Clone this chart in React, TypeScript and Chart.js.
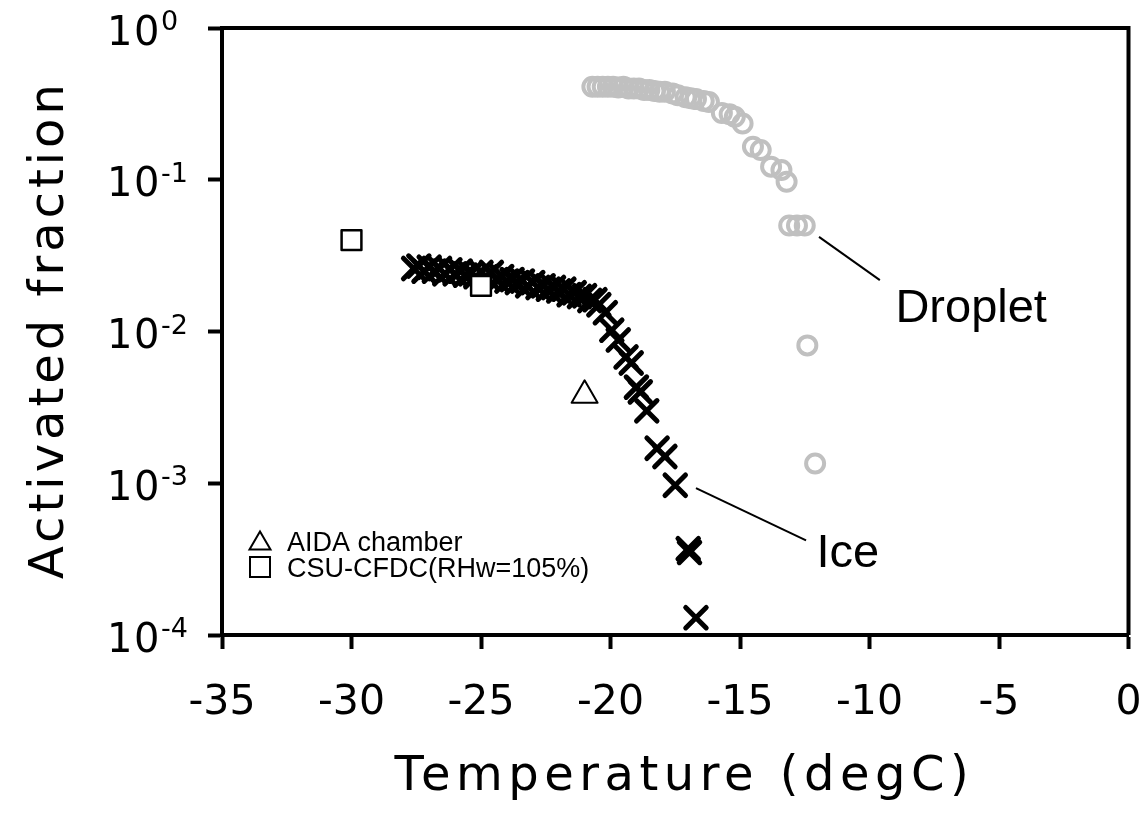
import React, { useEffect, useRef } from 'react';
import { Chart, registerables } from 'chart.js';

Chart.register(...registerables);

// ---- data ----
const xTicks = [-35, -30, -25, -20, -15, -10, -5, 0];
const yTicks = [1, 0.1, 0.01, 0.001, 0.0001];
const yTickBase = '10';
const yTickExponents = ['0', '-1', '-2', '-3', '-4'];

const iceT = [
  -27.6, -27.4, -27.2, -27.0, -26.8, -26.6, -26.4, -26.2, -26.0, -25.8,
  -25.6, -25.4, -25.2, -25.0, -24.8, -24.6, -24.4, -24.2, -24.0, -23.8,
  -23.6, -23.4, -23.2, -23.0, -22.8, -22.6, -22.4, -22.2, -22.0, -21.8,
  -21.6, -21.4, -21.2, -21.0, -20.8, -20.6, -20.45, -20.2, -19.95, -19.7,
  -19.4, -19.2, -19.0, -18.85, -18.6, -18.2, -17.9, -17.5, -17.0, -16.95, -16.7,
];
const iceF = [
  0.026, 0.027, 0.025, 0.0265, 0.025, 0.026, 0.024, 0.0255, 0.024, 0.025,
  0.0235, 0.024, 0.023, 0.0245, 0.023, 0.0245, 0.022, 0.023, 0.0215, 0.022,
  0.021, 0.0215, 0.020, 0.021, 0.0195, 0.020, 0.019, 0.0195, 0.0185, 0.019,
  0.0175, 0.018, 0.017, 0.0172, 0.016, 0.0162, 0.015, 0.0133, 0.0102, 0.0088,
  0.0068, 0.0062, 0.0043, 0.0040, 0.0030, 0.0017, 0.0015, 0.00097, 0.00037, 0.00035, 0.00013,
];

const dropT = [
  -20.7, -20.5, -20.3, -20.1, -19.9, -19.7, -19.5, -19.3, -19.1, -18.9,
  -18.7, -18.5, -18.3, -18.1, -17.9, -17.6, -17.4, -17.1, -16.9, -16.7,
  -16.4, -16.2, -15.7, -15.4, -15.2, -14.9, -14.5, -14.2, -13.8, -13.4,
  -13.2, -13.1, -12.8, -12.5, -12.4, -12.1,
];
const dropF = [
  0.41, 0.41, 0.41, 0.41, 0.41, 0.405, 0.41, 0.40, 0.40, 0.40,
  0.39, 0.39, 0.385, 0.38, 0.38, 0.37, 0.36, 0.35, 0.345, 0.34,
  0.33, 0.325, 0.275, 0.27, 0.26, 0.235, 0.165, 0.157, 0.122, 0.116,
  0.097, 0.05, 0.05, 0.05, 0.0081, 0.00135,
];

const aidaT = [-21.0];
const aidaF = [0.0038];
const csuT = [-30, -25];
const csuF = [0.04, 0.02];

const seriesLabels = ['CSU-CFDC(RHw=105%)', 'AIDA chamber', 'Ice', 'Droplet'];

// annotation anchors (data coordinates)
const annotations = {
  droplet: { from: [-11.95, 0.042], to: [-9.6, 0.0218], text: [-9.0, 0.0116] },
  ice: { from: [-16.7, 0.00093], to: [-12.45, 0.00042], text: [-12.05, 0.00028] },
};

const pts = (xs: number[], ys: number[]) => xs.map((x, i) => ({ x, y: ys[i] }));

const TITLE_FONT = '"DejaVu Sans", sans-serif';
const LABEL_FONT = '"Liberation Sans", Arial, sans-serif';

const decorPlugin = {
  id: 'decor',
  beforeDatasetsDraw(chart: any) {
    chart.ctx.save();
    chart.ctx.lineCap = 'round';
    chart.ctx.lineJoin = 'round';
  },
  afterDatasetsDraw(chart: any) {
    chart.ctx.restore();
  },
  afterDraw(chart: any) {
    const ctx = chart.ctx as CanvasRenderingContext2D;
    const { left, right, top, bottom } = chart.chartArea;
    const xs = chart.scales.x;
    const ys = chart.scales.y;
    ctx.save();
    // frame top & right
    ctx.strokeStyle = '#000';
    ctx.lineWidth = 4;
    ctx.beginPath();
    ctx.moveTo(left, top);
    ctx.lineTo(right, top);
    ctx.lineTo(right, bottom);
    ctx.stroke();

    // y tick labels with superscripts
    ctx.fillStyle = '#000';
    ctx.textAlign = 'left';
    ctx.textBaseline = 'alphabetic';
    ys.ticks.forEach((t: any) => {
      const idx = yTicks.findIndex((v) => Math.abs(Math.log10(v) - Math.log10(t.value)) < 1e-6);
      if (idx < 0) return;
      const py = ys.getPixelForValue(t.value);
      const lx = left - 115;
      ctx.font = `40px ${TITLE_FONT}`;
      (ctx as any).letterSpacing = '1.5px';
      ctx.fillText(yTickBase, lx, py + 16.5);
      const w = ctx.measureText(yTickBase).width;
      ctx.font = `27px ${TITLE_FONT}`;
      (ctx as any).letterSpacing = '0px';
      ctx.fillText(yTickExponents[idx], lx + w, py + 2);
    });

    // axis titles
    ctx.font = `48px ${TITLE_FONT}`;
    (ctx as any).letterSpacing = '5.5px';
    ctx.textAlign = 'center';
    ctx.fillText('Temperature (degC)', (left + right) / 2 + 9, 790);
    ctx.save();
    ctx.translate(63, (top + bottom) / 2 - 2);
    ctx.rotate(-Math.PI / 2);
    (ctx as any).letterSpacing = '4px';
    ctx.fillText('Activated fraction', 0, 0);
    ctx.restore();
    (ctx as any).letterSpacing = '0px';

    // leader lines and labels
    const P = (p: number[]) => [xs.getPixelForValue(p[0]), ys.getPixelForValue(p[1])];
    ctx.lineWidth = 2;
    ctx.textAlign = 'left';
    ctx.font = `47px ${LABEL_FONT}`;
    [
      { a: annotations.droplet, label: seriesLabels[3] },
      { a: annotations.ice, label: seriesLabels[2] },
    ].forEach(({ a, label }) => {
      const f = P(a.from), t = P(a.to), tx = P(a.text);
      ctx.beginPath();
      ctx.moveTo(f[0], f[1]);
      ctx.lineTo(t[0], t[1]);
      ctx.stroke();
      ctx.fillText(label, tx[0], tx[1]);
    });

    // legend (AIDA, CSU)
    ctx.font = `27px ${LABEL_FONT}`;
    ctx.lineWidth = 2;
    const lx = left + 38;
    const ly1 = bottom - 94;
    const ly2 = bottom - 68;
    const s = 21;
    ctx.beginPath();
    ctx.moveTo(lx, ly1 - s * 0.45);
    ctx.lineTo(lx + s / 2, ly1 + s * 0.4);
    ctx.lineTo(lx - s / 2, ly1 + s * 0.4);
    ctx.closePath();
    ctx.stroke();
    ctx.strokeRect(lx - 10, ly2 - 10, 20, 20);
    ctx.fillText(seriesLabels[1], lx + 27, ly1 + 10);
    ctx.fillText(seriesLabels[0], lx + 27, ly2 + 10);
    ctx.restore();
  },
};

export default function App() {
  const ref = useRef<HTMLCanvasElement | null>(null);
  useEffect(() => {
    if (!ref.current) return;
    const chart = new Chart(ref.current, {
      type: 'scatter',
      data: {
        datasets: [
          {
            label: seriesLabels[0],
            data: pts(csuT, csuF),
            pointStyle: 'rect',
            pointRadius: 14,
            borderWidth: 2.5,
            borderColor: '#000',
            backgroundColor: '#fff',
          },
          {
            label: seriesLabels[1],
            data: pts(aidaT, aidaF),
            pointStyle: 'triangle',
            pointRadius: 15,
            borderWidth: 2,
            borderColor: '#000',
            backgroundColor: '#fff',
          },
          {
            label: seriesLabels[2],
            data: pts(iceT, iceF),
            pointStyle: 'crossRot',
            pointRadius: 14.5,
            borderWidth: 5,
            borderColor: '#000',
            backgroundColor: '#000',
          },
          {
            label: seriesLabels[3],
            data: pts(dropT, dropF),
            pointStyle: 'circle',
            pointRadius: 9,
            borderWidth: 4,
            borderColor: '#c0c0c0',
            backgroundColor: 'rgba(0,0,0,0)',
          },
        ],
      },
      options: {
        animation: false,
        responsive: true,
        maintainAspectRatio: false,
        layout: { padding: { top: 28, right: 17, left: 0, bottom: 0 } },
        plugins: { legend: { display: false }, tooltip: { enabled: false } },
        elements: { point: { hoverRadius: 0 } },
        scales: {
          x: {
            type: 'linear',
            min: -35,
            max: 0,
            afterBuildTicks: (scale: any) => {
              scale.ticks = xTicks.map((v) => ({ value: v }));
            },
            afterFit: (scale: any) => {
              scale.height = 178;
              scale.paddingLeft = 0;
              scale.paddingRight = 0;
            },
            ticks: {
              color: '#000',
              font: { family: TITLE_FONT, size: 41 },
              padding: 30,
              maxRotation: 0,
              callback: (v: any) => String(v),
            },
            grid: {
              display: true,
              drawOnChartArea: false,
              drawTicks: true,
              tickLength: 14,
              tickWidth: 4,
              tickColor: '#000',
            },
            border: { display: true, color: '#000', width: 4 },
          },
          y: {
            type: 'logarithmic',
            min: 0.0001,
            max: 1,
            afterBuildTicks: (scale: any) => {
              scale.ticks = yTicks.map((v) => ({ value: v }));
            },
            afterFit: (scale: any) => {
              scale.width = 222;
              scale.paddingTop = 0;
              scale.paddingBottom = 0;
            },
            ticks: { display: false },
            grid: {
              display: true,
              drawOnChartArea: false,
              drawTicks: true,
              tickLength: 14,
              tickWidth: 4,
              tickColor: '#000',
            },
            border: { display: true, color: '#000', width: 4 },
          },
        },
      },
      plugins: [decorPlugin],
    } as any);
    return () => chart.destroy();
  }, []);
  return (
    <div style={{ position: 'fixed', left: 0, top: 0, width: 1148, height: 813, background: '#fff' }}>
      <canvas ref={ref} />
    </div>
  );
}
